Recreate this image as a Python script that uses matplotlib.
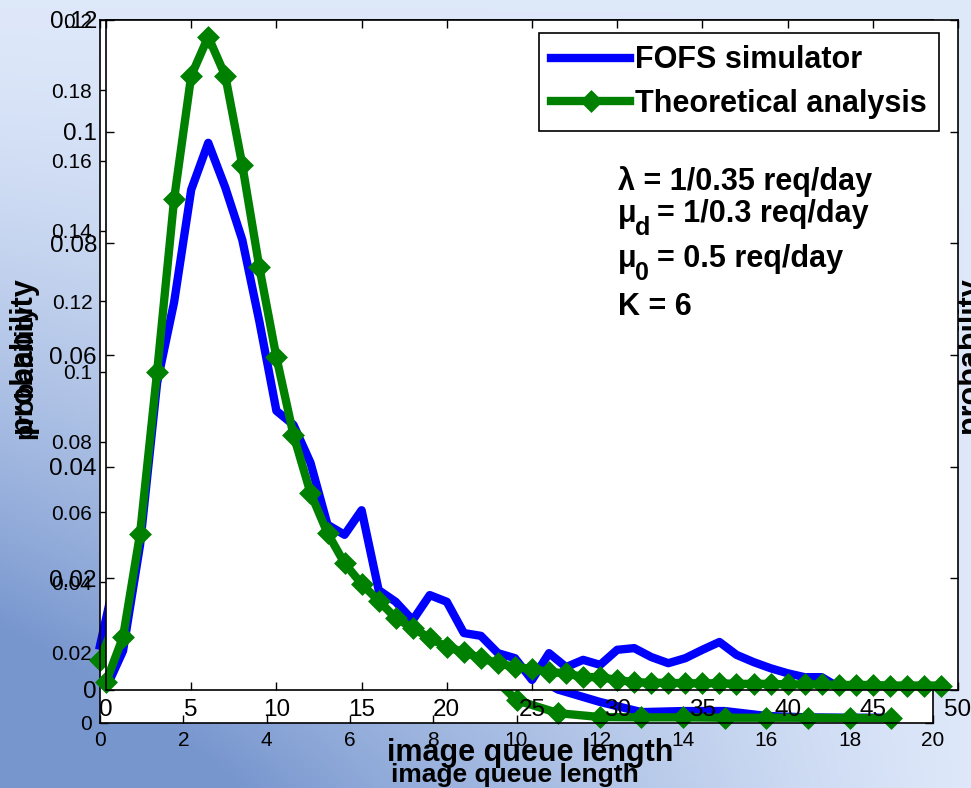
import numpy as np
import matplotlib
matplotlib.use('Agg')
from matplotlib import pyplot as plt
from matplotlib.ticker import FormatStrFormatter

plt.rcParams['font.family'] = ['Liberation Sans', 'DejaVu Sans']

W, H = 971, 788

# front plot (queue length 0..49)
fofs_a = [0.0003, 0.007, 0.026, 0.055, 0.0695, 0.0896, 0.098, 0.090, 0.0806, 0.066,
          0.050, 0.0475, 0.0407, 0.0296, 0.0278, 0.0322, 0.0179, 0.0158, 0.0125, 0.017,
          0.0158, 0.0102, 0.0097, 0.0066, 0.0057, 0.0018, 0.0066, 0.0041, 0.0054, 0.0045,
          0.0072, 0.0075, 0.0059, 0.0048, 0.0057, 0.0072, 0.0086, 0.0063, 0.005, 0.0039,
          0.003, 0.0023, 0.0023, 0.0005, 0.0, 0.0, 0.0, 0.0, 0.0, 0.0]
theo_a = [0.0014, 0.0095, 0.028, 0.057, 0.088, 0.110, 0.117, 0.110, 0.094, 0.0757,
          0.0596, 0.0457, 0.0353, 0.0281, 0.0227, 0.019, 0.016, 0.0129, 0.0111, 0.0093,
          0.0077, 0.0068, 0.0057, 0.0048, 0.0041, 0.0038, 0.0032, 0.0030, 0.0023, 0.0023,
          0.0018, 0.0014, 0.0013, 0.0013, 0.0012, 0.0012, 0.0012, 0.0011, 0.0011, 0.0011,
          0.0010, 0.0010, 0.0010, 0.0009, 0.0009, 0.0009, 0.0008, 0.0008, 0.0008, 0.0008]

# back plot (queue length 0..19), mostly hidden behind the front one
fofs_b = [0.022, 0.075, 0.125, 0.15, 0.14, 0.115, 0.085, 0.06, 0.04, 0.026,
          0.016, 0.0095, 0.006, 0.0031, 0.0034, 0.0034, 0.002, 0.0016, 0.0015, 0.0015]
theo_b = [0.018, 0.048, 0.11, 0.155, 0.165, 0.14, 0.105, 0.075, 0.045, 0.018,
          0.0065, 0.0028, 0.0017, 0.0016, 0.0016, 0.0015, 0.0015, 0.0015, 0.0014, 0.0014]

labels = ['FOFS simulator', 'Theoretical analysis']
BLUE = '#0000ff'
GREEN = '#008000'


def box(l, t, r, b):
    return [l / W, 1 - b / H, (r - l) / W, (b - t) / H]


def px(x, y):
    return x / W, 1 - y / H


fig = plt.figure(figsize=(W / 100, H / 100), dpi=100)

# slide background
gy, gx = np.mgrid[0:1:200j, 0:1:240j]
shade = np.clip(gy ** 1.5 * (1 - gx) ** 1.2 * 1.4, 0, 1)[..., None]
light = np.array([0.87, 0.91, 0.98])
dark = np.array([0.47, 0.59, 0.81])
bg = fig.add_axes([0, 0, 1, 1], zorder=-10)
bg.imshow(light * (1 - shade) + dark * shade, aspect='auto', extent=[0, 1, 0, 1])
bg.axis('off')


def style(ax, size, pad):
    ax.tick_params(direction='in', length=6, width=1, labelsize=size, pad=pad,
                   top=True, right=True)
    for s in ax.spines.values():
        s.set_linewidth(1.2)
    ax.yaxis.set_major_formatter(FormatStrFormatter('%g'))
    ax.set_facecolor('white')


# back axes
axb = fig.add_axes(box(100, 20, 933, 723), zorder=1)
xb = np.arange(len(theo_b))
axb.plot(xb, fofs_b, color=BLUE, lw=6, solid_joinstyle='round', clip_on=False)
axb.plot(xb, theo_b, color=GREEN, lw=6, marker='D', ms=9, mew=2.5,
         solid_joinstyle='round', clip_on=False)
axb.set_xlim(0, 20)
axb.set_ylim(0, 0.2)
axb.set_xticks(np.arange(0, 21, 2))
axb.set_yticks(np.arange(0, 0.201, 0.02))
style(axb, 15, 5.5)
axb.set_xlabel('image queue length', fontsize=19, fontweight='bold')
axb.xaxis.set_label_coords(0.498, -0.057)
axb.set_ylabel('probability', fontsize=19, fontweight='bold')
axb.yaxis.set_label_coords((37 - 100) / 833, 0.5)

# stray label peeking out on the right
fig.text(*px(978, 355), 'probability', rotation=90, rotation_mode='anchor',
         ha='center', va='baseline', fontsize=22, fontweight='bold', zorder=1.5)

# front axes
axa = fig.add_axes(box(106, 20, 958, 690), zorder=2)
xa = np.arange(len(theo_a))
axa.plot(xa, fofs_a, color=BLUE, lw=6, solid_joinstyle='round', label=labels[0])
axa.plot(xa, theo_a, color=GREEN, lw=6, marker='D', ms=9, mew=2.5,
         solid_joinstyle='round', clip_on=False, label=labels[1])
axa.set_xlim(0, 50)
axa.set_ylim(0, 0.12)
axa.set_xticks(np.arange(0, 51, 5))
axa.set_yticks(np.arange(0, 0.121, 0.02))
style(axa, 17.5, 6.5)
axa.set_xlabel('image queue length', fontsize=22, fontweight='bold')
axa.xaxis.set_label_coords(0.498, -0.0716)
axa.set_ylabel('probability', fontsize=22, fontweight='bold')
axa.yaxis.set_label_coords((38 - 106) / 852, 0.5)

leg = axa.legend(loc='upper right', bbox_to_anchor=(1 - 19 / 852, 1 - 13 / 670),
                 borderaxespad=0, prop=dict(size=22, weight='bold'),
                 handlelength=2.6, handletextpad=0.15, labelspacing=0.45,
                 borderpad=0.4, fancybox=False, edgecolor='black', framealpha=1)
leg.get_frame().set_linewidth(1.2)

# parameter notes
tkw = dict(fontsize=22, fontweight='bold', va='baseline', zorder=5)
fig.text(*px(618, 190), '\u03bb = 1/0.35 req/day', **tkw)
fig.text(*px(618, 222), '\u03bc', **tkw)
fig.text(*px(635, 235), 'd', fontsize=18, fontweight='bold', va='baseline', zorder=5)
fig.text(*px(657, 222), '= 1/0.3 req/day', **tkw)
fig.text(*px(618, 267), '\u03bc', **tkw)
fig.text(*px(635, 280), '0', fontsize=18, fontweight='bold', va='baseline', zorder=5)
fig.text(*px(657, 267), '= 0.5 req/day', **tkw)
fig.text(*px(618, 315), 'K = 6', **tkw)

fig.savefig('out.png', dpi=100)
